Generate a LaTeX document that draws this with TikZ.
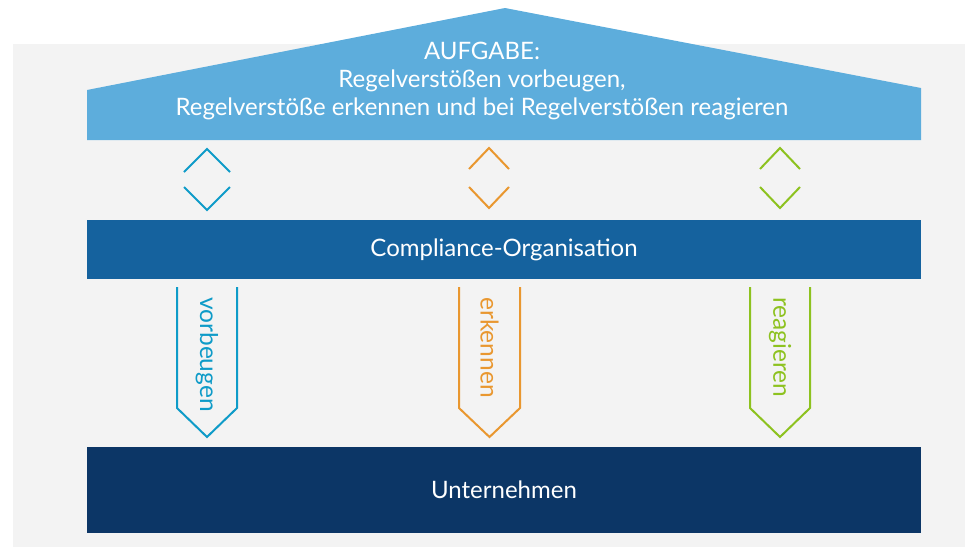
\documentclass[tikz,border=0pt]{standalone}
\usepackage{fontspec}
\setmainfont{Lato}
\definecolor{bggray}{HTML}{F3F3F3}
\definecolor{roofblue}{HTML}{5DADDC}
\definecolor{orgblue}{HTML}{15629E}
\definecolor{firmblue}{HTML}{0C3666}
\definecolor{cblue}{HTML}{0E9BC8}
\definecolor{corange}{HTML}{E9972F}
\definecolor{cgreen}{HTML}{8DC21F}
\tikzset{
  bar/.style={inner sep=0pt, minimum width=834pt, text=white, font=\fontsize{24}{27}\selectfont},
  chev/.style={line width=2pt},
  varrow/.style={line width=2pt, line join=miter},
  vlabel/.style={rotate=-90, anchor=west, inner sep=0pt, font=\fontsize{24.5}{27}\selectfont}
}
\begin{document}
\begin{tikzpicture}[x=1pt,y=-1pt]
\useasboundingbox (0,0) rectangle (965,547);
\fill[bggray] (13,44) rectangle (965,547);
% roof
\fill[roofblue] (87,90) -- (505,8) -- (921,88) -- (921,140) -- (87,140) -- cycle;
\node[text=white, align=center, font=\fontsize{24}{28}\selectfont] (task) at (482,81) {AUFGABE:\\Regelverstößen vorbeugen,\\Regelverstöße erkennen und bei Regelverstößen reagieren};
% bars
\node[bar, fill=orgblue, minimum height=59pt] (org) at (504,249.5) {Compliance-Organisation};
\node[bar, fill=firmblue, minimum height=86pt] (firm) at (504,490) {Unternehmen};
% chevrons
\draw[chev, cblue] (184,172) -- (207,149) -- (230,172);
\draw[chev, cblue] (184,187) -- (207,210) -- (230,187);
\draw[chev, corange] (469,169) -- (489,148) -- (509,169);
\draw[chev, corange] (469,187) -- (489,208) -- (509,187);
\draw[chev, cgreen] (760,169) -- (780,148) -- (800,169);
\draw[chev, cgreen] (760,187) -- (780,208) -- (800,187);
% arrows
\draw[varrow, cblue] (177,287) -- (177,408) -- (207,437) -- (237,408) -- (237,287);
\node[vlabel, text=cblue] (prevent) at (207,297) {vorbeugen};
\draw[varrow, corange] (459,287) -- (459,408) -- (489.5,437) -- (520,408) -- (520,287);
\node[vlabel, text=corange] (detect) at (489.5,297) {erkennen};
\draw[varrow, cgreen] (750,287) -- (750,408) -- (780,437) -- (810,408) -- (810,287);
\node[vlabel, text=cgreen] (react) at (780,297) {reagieren};
\end{tikzpicture}
\end{document}
